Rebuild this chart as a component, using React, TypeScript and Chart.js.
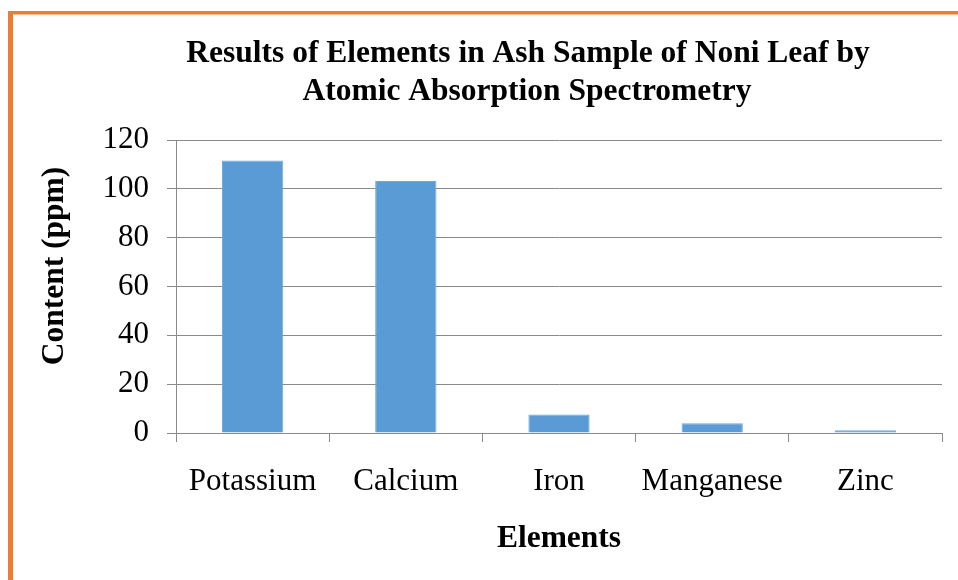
import React, { useEffect, useRef } from "react";
import { Chart, registerables } from "chart.js";

Chart.register(...registerables);

const categories = ["Potassium", "Calcium", "Iron", "Manganese", "Zinc"];
const contentPpm = [111.6, 103.2, 7.6, 4.0, 1.1];
const titleLines = ["Results of Elements in Ash Sample of Noni Leaf by", "Atomic Absorption Spectrometry"];
const yAxisTitle = "Content (ppm)";
const xAxisTitle = "Elements";
const yMin = 0;
const yMax = 120;
const yStep = 20;

const SERIF = "'Liberation Serif', 'Times New Roman', serif";
const GRID = "#8a8a8a";

const decorPlugin = {
  id: "decor",
  beforeDraw(chart: any) {
    const ctx = chart.ctx;
    ctx.save();
    ctx.fillStyle = "#ED7D31";
    ctx.fillRect(8, 11, 5, 569);
    ctx.fillRect(8, 11, 950, 3.5);
    ctx.restore();
  },
  afterDraw(chart: any) {
    const ctx = chart.ctx;
    ctx.save();
    ctx.fillStyle = "#000";
    ctx.font = `bold 31.5px ${SERIF}`;
    ctx.textAlign = "center";
    ctx.textBaseline = "alphabetic";
    ctx.fillText(titleLines[0], 528, 62);
    ctx.fillText(titleLines[1], 527, 100);
    ctx.translate(63, 266);
    ctx.rotate(-Math.PI / 2);
    ctx.font = `bold 31.5px ${SERIF}`;
    ctx.fillText(yAxisTitle, 0, 0);
    ctx.restore();
  },
};

export default function App() {
  const ref = useRef<HTMLCanvasElement>(null);
  useEffect(() => {
    if (!ref.current) return;
    const chart = new Chart(ref.current, {
      type: "bar",
      data: {
        labels: categories,
        datasets: [
          {
            data: contentPpm,
            backgroundColor: "#5B9BD5",
            borderColor: "#6FA8DC",
            borderWidth: 1,
            categoryPercentage: 1,
            barPercentage: 0.4,
          },
        ],
      },
      options: {
        animation: false,
        responsive: false,
        maintainAspectRatio: false,
        layout: { padding: { left: 0, top: 140, right: 16, bottom: 0 } },
        plugins: {
          legend: { display: false },
          title: { display: false },
          tooltip: { enabled: false },
        },
        scales: {
          x: {
            afterFit: (s: any) => {
              s.height = 147;
            },
            grid: {
              offset: true,
              drawOnChartArea: false,
              drawTicks: true,
              tickLength: 9,
              color: GRID,
            },
            border: { color: GRID, width: 1 },
            ticks: {
              padding: 21,
              color: "#000",
              font: { family: SERIF, size: 31 },
              maxRotation: 0,
            },
            title: {
              display: true,
              text: xAxisTitle,
              color: "#000",
              font: { family: SERIF, size: 31.5, weight: "bold" },
              padding: { top: 0, bottom: 22 },
            },
          },
          y: {
            min: yMin,
            max: yMax,
            afterFit: (s: any) => {
              s.width = 176;
            },
            grid: {
              color: GRID,
              drawTicks: true,
              tickLength: 9,
            },
            border: { color: GRID, width: 1 },
            ticks: {
              stepSize: yStep,
              padding: 18,
              color: "#000",
              font: { family: SERIF, size: 31 },
            },
          },
        },
      },
      plugins: [decorPlugin],
    });
    return () => chart.destroy();
  }, []);
  return (
    <div style={{ position: "fixed", left: 0, top: 0, width: 958, height: 580, background: "#fff" }}>
      <canvas ref={ref} width={958} height={580} />
    </div>
  );
}
